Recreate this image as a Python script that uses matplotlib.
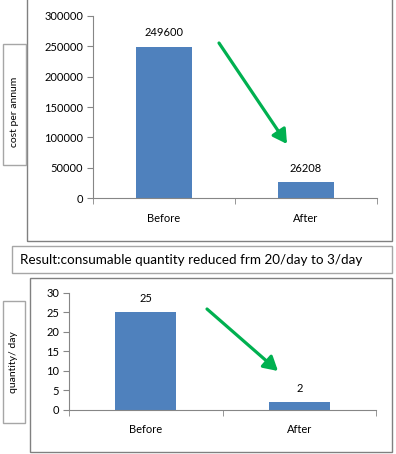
import matplotlib
matplotlib.use("Agg")
import matplotlib.pyplot as plt
from matplotlib.patches import Rectangle, FancyArrowPatch

plt.rcParams['font.family'] = ['Lato', 'DejaVu Sans']

categories = ["Before", "After"]
cost_values = [249600, 26208]
qty_values = [25, 2]
cost_ticks = [0, 50000, 100000, 150000, 200000, 250000, 300000]
qty_ticks = [0, 5, 10, 15, 20, 25, 30]
cost_ylabel = "cost per annum"
qty_ylabel = "quantity/ day"
result_text = "Result:consumable quantity reduced frm 20/day to 3/day"

W, H = 396, 454
BAR = "#4F81BD"
AX = "#868686"
GREEN = "#00B050"
BOX = "#A6A6A6"

fig = plt.figure(figsize=(W / 100, H / 100), dpi=100)


def fr(x0, y0, x1, y1):
    # pixel box (top-left origin) -> figure fraction rect
    return [x0 / W, 1 - y1 / H, (x1 - x0) / W, (y1 - y0) / H]


def box(x0, y0, x1, y1, color):
    fig.patches.append(Rectangle((x0 / W, 1 - y1 / H), (x1 - x0) / W, (y1 - y0) / H,
                                 transform=fig.transFigure, fill=False,
                                 edgecolor=color, linewidth=1.0))


def arrow(x0, y0, x1, y1):
    fig.patches.append(FancyArrowPatch((x0 / W, 1 - y0 / H), (x1 / W, 1 - y1 / H),
                                       transform=fig.transFigure,
                                       arrowstyle="-|>,head_length=7,head_width=4",
                                       mutation_scale=1.2,
                                       color=GREEN, linewidth=2.3,
                                       shrinkA=0, shrinkB=0))


def bar_chart(rect, values, ticks, fmt, xpad):
    ax = fig.add_axes(rect)
    x = list(range(len(categories)))
    ax.bar(x, values, width=0.4, color=BAR)
    ax.set_xlim(-0.5, len(categories) - 0.5)
    ax.set_ylim(ticks[0], ticks[-1])
    ax.set_yticks(ticks)
    ax.set_yticklabels([fmt(t) for t in ticks])
    ax.set_xticks(x)
    ax.set_xticklabels(categories)
    ax.set_xticks([i - 0.5 for i in range(len(categories) + 1)], minor=True)
    ax.tick_params(axis='x', which='major', length=0, pad=xpad, labelsize=8)
    ax.tick_params(axis='x', which='minor', length=4, color=AX, direction='out')
    ax.tick_params(axis='y', length=4, color=AX, pad=3, labelsize=8)
    for s in ("top", "right"):
        ax.spines[s].set_visible(False)
    for s in ("left", "bottom"):
        ax.spines[s].set_color(AX)
    for xi, v in zip(x, values):
        ax.annotate(fmt(v), (xi, v), xytext=(0, 6), textcoords="offset points",
                    ha="center", va="bottom", fontsize=8)
    ax.patch.set_alpha(0)
    return ax


# top chart
box(27, -2, 392, 241, "#808080")
bar_chart(fr(93, 16, 377, 198), cost_values, cost_ticks, lambda v: f"{v:d}", 11)
box(3, 44, 26, 165, BOX)
fig.text(14.5 / W, 1 - 112 / H, cost_ylabel, rotation=90, ha="center", va="center", fontsize=7.5)
arrow(219, 43, 287, 144)

# result text box
box(12, 246, 392, 273, BOX)
fig.text(20 / W, 1 - 260 / H, result_text, ha="left", va="center", fontsize=9.7)

# bottom chart
box(30, 278, 392, 452, "#808080")
bar_chart(fr(69, 292.7, 376, 409.7), qty_values, qty_ticks, lambda v: f"{v:d}", 10)
box(3, 301, 25, 423, BOX)
fig.text(14 / W, 1 - 362 / H, qty_ylabel, rotation=90, ha="center", va="center", fontsize=7.5)
arrow(207, 309, 278, 371)

fig.savefig("out.png", dpi=100)
